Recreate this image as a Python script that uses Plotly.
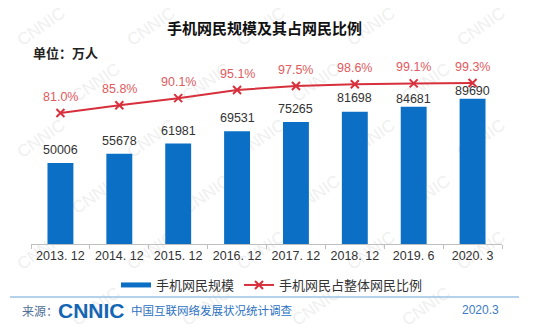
import plotly.graph_objects as go

# Data
periods = ["2013. 12", "2014. 12", "2015. 12", "2016. 12", "2017. 12", "2018. 12", "2019. 6", "2020. 3"]
mobile_users = [50006, 55678, 61981, 69531, 75265, 81698, 84681, 89690]   # 万人
mobile_share = [81.0, 85.8, 90.1, 95.1, 97.5, 98.6, 99.1, 99.3]          # %

# Label offsets above each bar (last two nudged down to clear the line)
bar_label_shift = [13, 13, 13, 13, 13, 14, 8, 8]

BLUE = "#0A6FC5"
RED = "#D7303C"
RED_TXT = "#E05A5E"
DARK = "#333333"
CJK = "Noto Sans CJK SC, Liberation Sans, sans-serif"
LAT = "Liberation Sans, Arial, sans-serif"

fig = go.Figure()

fig.add_trace(go.Bar(
    x=periods, y=mobile_users, marker=dict(color=BLUE, line=dict(width=0)),
    showlegend=False, hoverinfo="skip", yaxis="y",
))
# legend entry for bars drawn as thick line
fig.add_trace(go.Scatter(
    x=[None], y=[None], mode="lines", line=dict(color=BLUE, width=5),
    name="手机网民规模", yaxis="y",
))
fig.add_trace(go.Scatter(
    x=periods, y=mobile_share, mode="lines+markers", yaxis="y2",
    line=dict(color=RED, width=2),
    marker=dict(symbol="x-thin", size=8, line=dict(color=RED, width=2), color=RED),
    name="手机网民占整体网民比例",
))

annotations = []
for p, v, s in zip(periods, mobile_users, bar_label_shift):
    annotations.append(dict(x=p, y=v, xref="x", yref="y", text=str(v), showarrow=False,
                            yshift=s, yanchor="middle",
                            font=dict(family=LAT, size=12.5, color=DARK)))
for p, v in zip(periods, mobile_share):
    annotations.append(dict(x=p, y=v, xref="x", yref="y2", text=f"{v:.1f}%",
                            showarrow=False, yshift=16, yanchor="middle",
                            font=dict(family=LAT, size=12.5, color=RED_TXT)))

# page texts (paper coords: plot spans x 31..502 px, y 60..244 px)
def px(xp):
    return (xp - 31) / 471.0

def py(yp):
    return (244 - yp) / 184.0

annotations += [
    dict(x=px(264), y=py(27), xref="paper", yref="paper", text="<b>手机网民规模及其占网民比例</b>",
         showarrow=False, xanchor="center", yanchor="middle",
         font=dict(family=CJK, size=15, color="#111111")),
    dict(x=px(31), y=py(53), xref="paper", yref="paper", text="<b>单位：万人</b>",
         showarrow=False, xanchor="left", yanchor="middle",
         font=dict(family=CJK, size=13, color="#222222")),
    dict(x=px(20), y=py(310), xref="paper", yref="paper", text="来源：",
         showarrow=False, xanchor="left", yanchor="middle",
         font=dict(family=CJK, size=12, color="#4F6F96")),
    dict(x=px(56), y=py(310), xref="paper", yref="paper", text="<b>CNNIC</b>",
         showarrow=False, xanchor="left", yanchor="middle",
         font=dict(family=LAT, size=21, color="#1466B4")),
    dict(x=px(129), y=py(310), xref="paper", yref="paper", text="中国互联网络发展状况统计调查",
         showarrow=False, xanchor="left", yanchor="middle",
         font=dict(family=CJK, size=11.5, color="#2C72C2")),
    dict(x=px(501), y=py(310), xref="paper", yref="paper", text="2020.3",
         showarrow=False, xanchor="right", yanchor="middle",
         font=dict(family=LAT, size=12, color="#3A7CC4")),
]

shapes = [
    dict(type="line", xref="paper", yref="paper", x0=px(10), x1=px(519), y0=py(297), y1=py(297),
         line=dict(color="#9DC3E6", width=1.5)),
]

# faint diagonal watermark tiles behind the chart
for row in range(6):
    for col in range(5):
        cx = 40 + col * 110 + (55 if row % 2 else 0)
        cy = 25 + row * 56
        if cx > 520:
            continue
        shapes.append(dict(
            type="rect", xref="paper", yref="paper", layer="below",
            x0=px(cx - 1), x1=px(cx + 1), y0=py(cy + 1), y1=py(cy - 1),
            line=dict(width=0), fillcolor="rgba(0,0,0,0)",
            label=dict(text="CNNIC", textangle=-35, textposition="middle center",
                       font=dict(family=LAT, size=17, color="#F0F0F0")),
        ))

fig.update_layout(
    width=550, height=332,
    margin=dict(l=31, r=48, t=60, b=88),
    paper_bgcolor="white", plot_bgcolor="rgba(0,0,0,0)",
    bargap=0.56,
    xaxis=dict(type="category", showgrid=False, showline=True, linecolor="#BFBFBF", linewidth=1,
               ticks="outside", tickson="boundaries", ticklen=4, tickcolor="#BFBFBF",
               tickfont=dict(family=LAT, size=12.5, color=DARK), fixedrange=True),
    yaxis=dict(range=[0, 113580], visible=False, showgrid=False, zeroline=False),
    yaxis2=dict(range=[1, 113.4], overlaying="y", visible=False, showgrid=False, zeroline=False),
    legend=dict(orientation="h", x=px(272), y=py(285), xanchor="center", yanchor="middle",
                font=dict(family=CJK, size=13, color=DARK), bgcolor="rgba(0,0,0,0)",
                itemwidth=30, traceorder="normal"),
    annotations=annotations,
    shapes=shapes,
)

fig.write_html("out.html")
